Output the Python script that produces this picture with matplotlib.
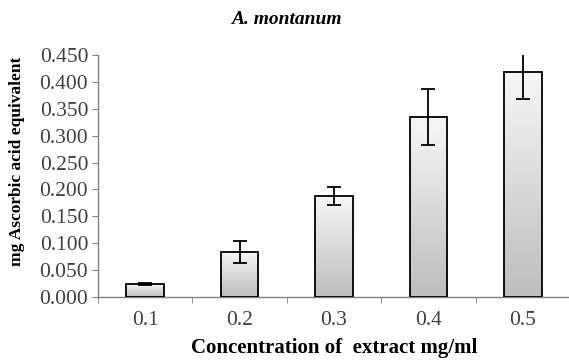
import numpy as np
import matplotlib
matplotlib.use("Agg")
import matplotlib.pyplot as plt
from matplotlib.colors import LinearSegmentedColormap

concentrations = ['0.1', '0.2', '0.3', '0.4', '0.5']
values = [0.024, 0.084, 0.188, 0.335, 0.418]
errors = [0.002, 0.021, 0.016, 0.052, 0.050]
y_ticks = [0.0, 0.05, 0.1, 0.15, 0.2, 0.25, 0.3, 0.35, 0.4, 0.45]

plt.rcParams['font.family'] = ['Liberation Serif', 'DejaVu Serif']

fig = plt.figure(figsize=(5.69, 3.6), dpi=100)
ax = fig.add_axes([0.172, 0.175, 0.83, 0.672])

x = np.arange(1, len(values) + 1)
bars = ax.bar(x, values, width=0.4, facecolor='none', edgecolor='black',
              linewidth=1.3, zorder=3)

# vertical gradient fill (light at top, gray at bottom)
cmap = LinearSegmentedColormap.from_list('bar', ['#f7f7f7', '#bdbdbd'])
grad = np.linspace(0, 1, 256).reshape(-1, 1)
for b in bars:
    x0, y0 = b.get_x(), b.get_y()
    w, h = b.get_width(), b.get_height()
    im = ax.imshow(grad, cmap=cmap, aspect='auto',
                   extent=[x0, x0 + w, y0, y0 + h], origin='upper', zorder=2)
    im.set_clip_path(b)

ax.errorbar(x, values, yerr=errors, fmt='none', ecolor='black',
            elinewidth=1.3, capsize=5, capthick=1.3, zorder=4)

ax.set_xlim(0.5, 5.5)
ax.set_ylim(0, 0.45)
ax.set_yticks(y_ticks)
ax.set_yticklabels(['%.3f' % v for v in y_ticks])
ax.set_xticks(x)
ax.set_xticklabels(concentrations)
ax.set_xticks(np.arange(0.5, 6.0, 1.0), minor=True)

for s in ['top', 'right']:
    ax.spines[s].set_visible(False)
for s in ['left', 'bottom']:
    ax.spines[s].set_color('#808080')
    ax.spines[s].set_linewidth(1.0)

ax.tick_params(axis='y', direction='out', length=4, color='#808080',
               labelsize=15.5, labelcolor='#404040', pad=3)
ax.tick_params(axis='x', which='major', length=0, labelsize=15.5,
               labelcolor='#404040', pad=10)
ax.tick_params(axis='x', which='minor', direction='out', length=4,
               color='#808080')

ax.set_ylabel('mg Ascorbic acid equivalent', fontsize=12.5,
              fontweight='bold')
ax.yaxis.set_label_coords(-0.155, 0.56)
ax.set_xlabel('Concentration of  extract mg/ml', fontsize=15,
              fontweight='bold', labelpad=6)
fig.text(0.503, 0.945, 'A. montanum', fontsize=14, fontweight='bold',
         fontstyle='italic', ha='center', va='center')

plt.savefig('out.png', dpi=100)
